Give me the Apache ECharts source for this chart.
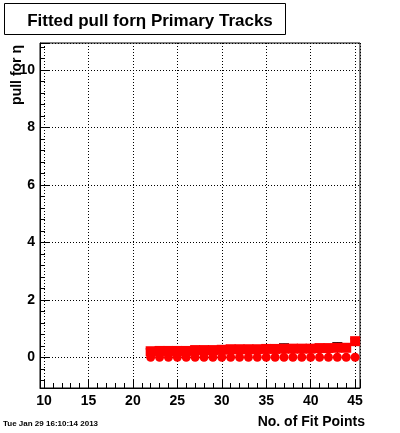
<!DOCTYPE html>
<html>
<head>
<meta charset="utf-8">
<script src="https://cdn.jsdelivr.net/npm/echarts@6/dist/echarts.min.js"></script>
<style>html,body{margin:0;padding:0;background:#fff}#c{width:400px;height:433px}</style>
</head>
<body>
<div id="c"></div>
<script>
var fitPoints = [22,23,24,25,26,27,28,29,30,31,32,33,34,35,36,37,38,39,40,41,42,43,44,45];
var pullSquares = [0.21,0.22,0.22,0.22,0.22,0.25,0.25,0.25,0.26,0.28,0.28,0.28,0.28,0.29,0.29,0.30,0.30,0.30,0.30,0.32,0.32,0.33,0.33,0.56];
var pullErrors = [0.08,0.08,0.08,0.08,0.08,0.08,0.08,0.08,0.08,0.08,0.08,0.08,0.08,0.08,0.08,0.17,0.08,0.08,0.08,0.08,0.08,0.18,0.08,0.08];
var pullCircles = [0,0,0,0,0,0,0,0,0,0,0,0,0,0,0,0,0,0,0,0,0,0,0,0];
var titleText = 'Fitted pull for\u03b7 Primary Tracks';
var xTitle = 'No. of Fit Points';
var yTitle = 'pull for \u03b7';
var stamp = 'Tue Jan 29 16:10:14 2013';

var sq = fitPoints.map(function(x,i){return [x,pullSquares[i]];});
var ci = fitPoints.map(function(x,i){return [x,pullCircles[i]];});
var eb = fitPoints.map(function(x,i){return [x,pullSquares[i],pullErrors[i]];});

var chart = echarts.init(document.getElementById('c'));
var font = 'Liberation Sans, Arial, sans-serif';
var dot = {color:'#000',type:[1,2],width:1};
chart.setOption({
  animation:false,
  backgroundColor:'#fff',
  title:{text:titleText,left:145,top:8,textAlign:'center',
    textStyle:{fontFamily:font,fontWeight:'bold',fontSize:17,color:'#000'}},
  graphic:[
    {type:'rect',left:4,top:3,z:-1,shape:{width:281,height:31},style:{fill:'#fff',stroke:'#000',lineWidth:1}},
    {type:'text',x:17,y:45,rotation:Math.PI/2,style:{text:yTitle,align:'right',verticalAlign:'middle',fontFamily:font,fontWeight:'bold',fontSize:14,fill:'#000'}},
    {type:'text',x:365,y:422,style:{text:xTitle,align:'right',verticalAlign:'middle',fontFamily:font,fontWeight:'bold',fontSize:14,fill:'#000'}},
    {type:'text',x:3,y:424,style:{text:stamp,align:'left',verticalAlign:'middle',fontFamily:font,fontWeight:'bold',fontSize:8,fill:'#000'}}
  ],
  grid:{left:40,right:40,top:43,bottom:45,show:true,borderColor:'#000',borderWidth:1,backgroundColor:'#fff'},
  xAxis:{type:'value',min:9.55,max:45.55,splitNumber:7,
    axisLine:{show:true,onZero:false,lineStyle:{color:'#000',width:1}},
    axisTick:{show:true,inside:true,length:9,lineStyle:{color:'#000'}},
    minorTick:{show:true,splitNumber:5,length:5,lineStyle:{color:'#000'}},
    axisLabel:{showMinLabel:false,showMaxLabel:false,margin:6,color:'#000',fontFamily:font,fontWeight:'bold',fontSize:14},
    splitLine:{show:true,lineStyle:dot}},
  yAxis:{type:'value',min:-1.07,max:10.94,splitNumber:6,
    axisLine:{show:true,onZero:false,lineStyle:{color:'#000',width:1}},
    axisTick:{show:true,inside:true,length:9,lineStyle:{color:'#000'}},
    minorTick:{show:true,splitNumber:5,length:5,lineStyle:{color:'#000'}},
    axisLabel:{showMinLabel:false,showMaxLabel:false,margin:5,color:'#000',fontFamily:font,fontWeight:'bold',fontSize:14},
    splitLine:{show:true,lineStyle:dot}},
  series:[
    {type:'custom',data:eb,z:1,renderItem:function(params,api){
      var x=api.value(0),y=api.value(1),e=api.value(2);
      var p1=api.coord([x,y-e]),p2=api.coord([x,y+e]);
      return {type:'group',children:[
        {type:'line',shape:{x1:p1[0],y1:p1[1],x2:p2[0],y2:p2[1]},style:{stroke:'#000',lineWidth:1}},
        {type:'line',shape:{x1:p2[0]-5,y1:p2[1],x2:p2[0]+5,y2:p2[1]},style:{stroke:'#000',lineWidth:1}}
      ]};
    }},
    {type:'scatter',data:sq,symbol:'rect',symbolSize:10,z:2,itemStyle:{color:'#ff0000',opacity:1}},
    {type:'scatter',data:ci,symbol:'circle',symbolSize:9,z:3,itemStyle:{color:'#ff0000',opacity:1}}
  ]
});
</script>
</body>
</html>
